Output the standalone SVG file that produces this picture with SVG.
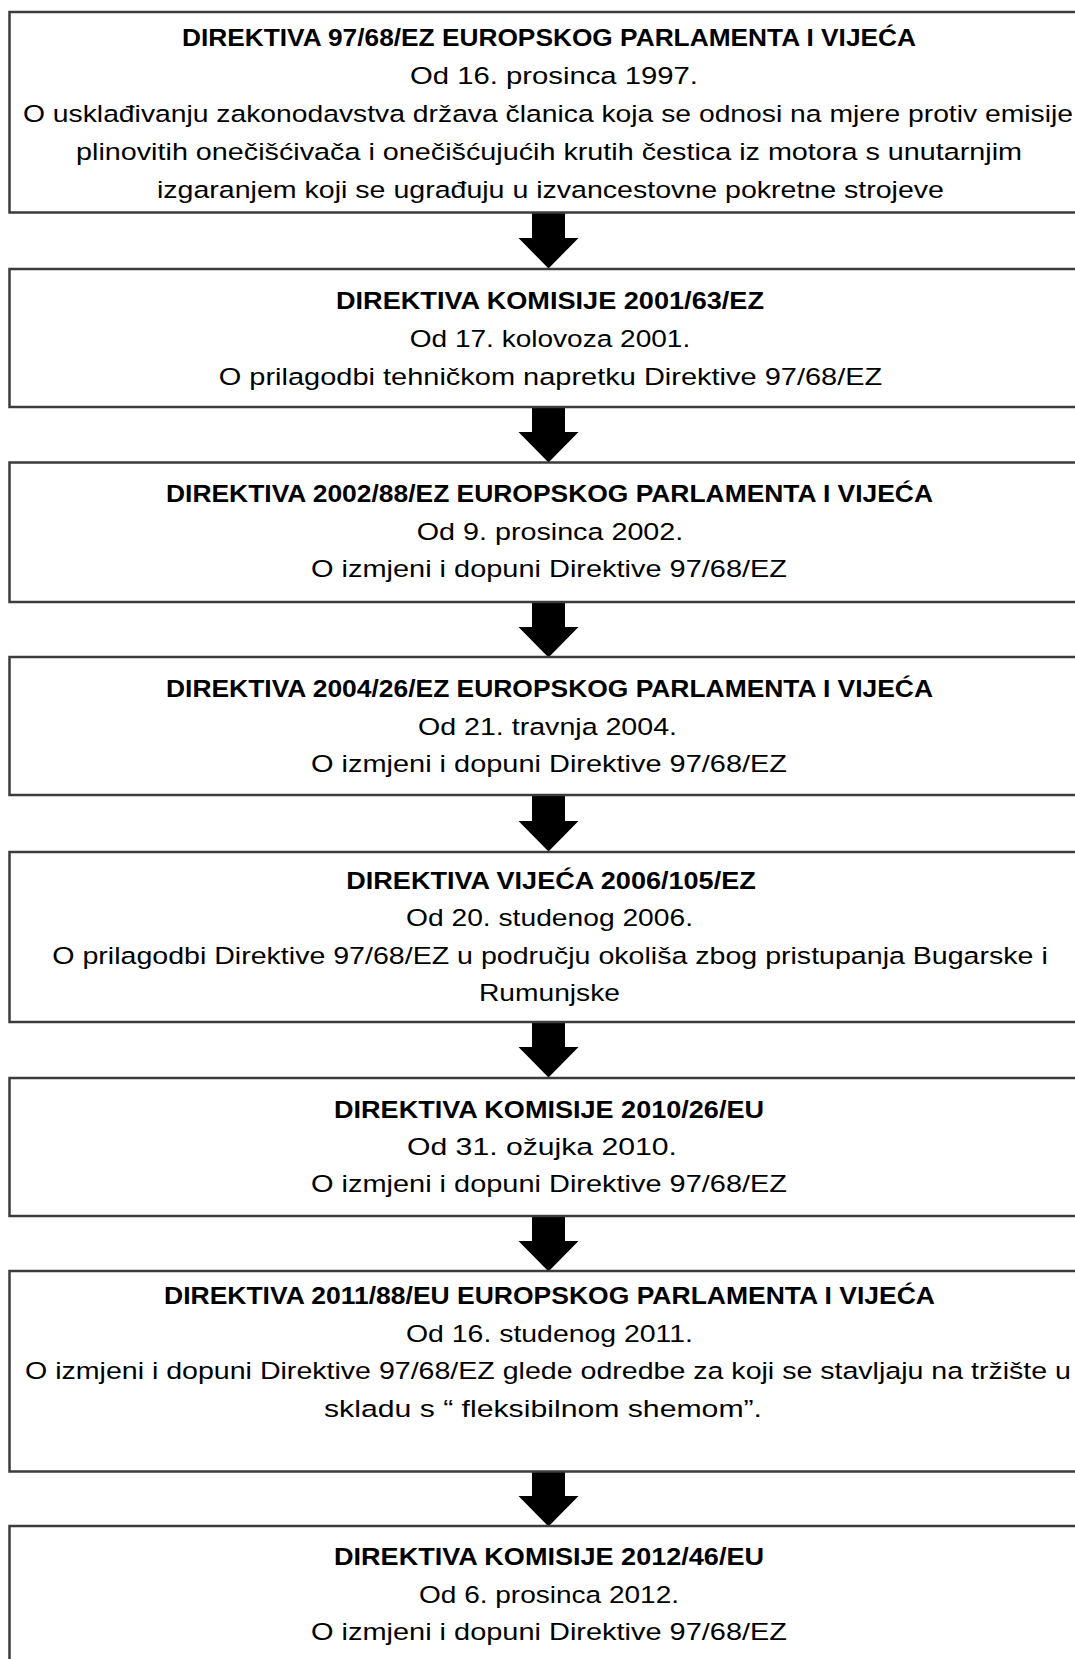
<svg xmlns="http://www.w3.org/2000/svg" width="1075" height="1659" viewBox="0 0 1075 1659">
<style>
.box{fill:#fff;stroke:#3c3c3c;stroke-width:2.5}
text{font-family:"Liberation Sans",Arial,sans-serif;font-size:24.5px;fill:#000;text-anchor:middle}
.t{font-weight:bold}
.arr{fill:#000}
</style>
<defs>
<path id="arrow" d="M-16.5,0 H16.5 V25 H30 L0,55.5 L-30,25 H-16.5 Z"/>
</defs>
<rect width="1075" height="1659" fill="#fff"/>
<g id="connectors" class="arr">
<use href="#arrow" x="548.5" y="213"/>
<use href="#arrow" x="548.5" y="407"/>
<use href="#arrow" x="548.5" y="602"/>
<use href="#arrow" x="548.5" y="796"/>
<use href="#arrow" x="548.5" y="1022"/>
<use href="#arrow" x="548.5" y="1216"/>
<use href="#arrow" x="548.5" y="1471"/>
</g>
<g id="n1">
<rect class="box" x="9.5" y="12" width="1085" height="200.5"/>
<text class="t" x="549" y="45.5" textLength="734" lengthAdjust="spacingAndGlyphs">DIREKTIVA 97/68/EZ EUROPSKOG PARLAMENTA I VIJEĆA</text>
<text x="554" y="83.5" textLength="288" lengthAdjust="spacingAndGlyphs">Od 16. prosinca 1997.</text>
<text x="548" y="121.5" textLength="1050" lengthAdjust="spacingAndGlyphs">O usklađivanju zakonodavstva država članica koja se odnosi na mjere protiv emisije</text>
<text x="549" y="159.5" textLength="946" lengthAdjust="spacingAndGlyphs">plinovitih onečišćivača i onečišćujućih krutih čestica iz motora s unutarnjim</text>
<text x="550.5" y="197.5" textLength="787" lengthAdjust="spacingAndGlyphs">izgaranjem koji se ugrađuju u izvancestovne pokretne strojeve</text>
</g>
<g id="n2">
<rect class="box" x="9.5" y="269" width="1085" height="138"/>
<text class="t" x="550" y="309" textLength="428" lengthAdjust="spacingAndGlyphs">DIREKTIVA KOMISIJE 2001/63/EZ</text>
<text x="550" y="347" textLength="280.5" lengthAdjust="spacingAndGlyphs">Od 17. kolovoza 2001.</text>
<text x="550.5" y="384.5" textLength="663.5" lengthAdjust="spacingAndGlyphs">O prilagodbi tehničkom napretku Direktive 97/68/EZ</text>
</g>
<g id="n3">
<rect class="box" x="9.5" y="462.5" width="1085" height="139.5"/>
<text class="t" x="549.5" y="501.5" textLength="767" lengthAdjust="spacingAndGlyphs">DIREKTIVA 2002/88/EZ EUROPSKOG PARLAMENTA I VIJEĆA</text>
<text x="550" y="539.5" textLength="266.5" lengthAdjust="spacingAndGlyphs">Od 9. prosinca 2002.</text>
<text x="549" y="576.5" textLength="476" lengthAdjust="spacingAndGlyphs">O izmjeni i dopuni Direktive 97/68/EZ</text>
</g>
<g id="n4">
<rect class="box" x="9.5" y="657" width="1085" height="138"/>
<text class="t" x="549.5" y="696.5" textLength="767" lengthAdjust="spacingAndGlyphs">DIREKTIVA 2004/26/EZ EUROPSKOG PARLAMENTA I VIJEĆA</text>
<text x="547.5" y="734.5" textLength="259" lengthAdjust="spacingAndGlyphs">Od 21. travnja 2004.</text>
<text x="549" y="771.5" textLength="476" lengthAdjust="spacingAndGlyphs">O izmjeni i dopuni Direktive 97/68/EZ</text>
</g>
<g id="n5">
<rect class="box" x="9.5" y="852" width="1085" height="170"/>
<text class="t" x="551" y="888.5" textLength="409.5" lengthAdjust="spacingAndGlyphs">DIREKTIVA VIJEĆA 2006/105/EZ</text>
<text x="549.5" y="925.5" textLength="287" lengthAdjust="spacingAndGlyphs">Od 20. studenog 2006.</text>
<text x="550" y="964" textLength="995.5" lengthAdjust="spacingAndGlyphs">O prilagodbi Direktive 97/68/EZ u području okoliša zbog pristupanja Bugarske i</text>
<text x="549.5" y="1001" textLength="141" lengthAdjust="spacingAndGlyphs">Rumunjske</text>
</g>
<g id="n6">
<rect class="box" x="9.5" y="1078" width="1085" height="138"/>
<text class="t" x="549" y="1117.5" textLength="430" lengthAdjust="spacingAndGlyphs">DIREKTIVA KOMISIJE 2010/26/EU</text>
<text x="542" y="1154.5" textLength="270" lengthAdjust="spacingAndGlyphs">Od 31. ožujka 2010.</text>
<text x="549" y="1191.5" textLength="476" lengthAdjust="spacingAndGlyphs">O izmjeni i dopuni Direktive 97/68/EZ</text>
</g>
<g id="n7">
<rect class="box" x="9.5" y="1271" width="1085" height="200.5"/>
<text class="t" x="549.5" y="1303.5" textLength="771" lengthAdjust="spacingAndGlyphs">DIREKTIVA 2011/88/EU EUROPSKOG PARLAMENTA I VIJEĆA</text>
<text x="549.5" y="1341.5" textLength="287" lengthAdjust="spacingAndGlyphs">Od 16. studenog 2011.</text>
<text x="548" y="1378.5" textLength="1046" lengthAdjust="spacingAndGlyphs">O izmjeni i dopuni Direktive 97/68/EZ glede odredbe za koji se stavljaju na tržište u</text>
<text x="543" y="1416.5" textLength="438" lengthAdjust="spacingAndGlyphs">skladu s “ fleksibilnom shemom”.</text>
</g>
<g id="n8">
<rect class="box" x="9.5" y="1526" width="1085" height="160"/>
<text class="t" x="549" y="1565" textLength="430" lengthAdjust="spacingAndGlyphs">DIREKTIVA KOMISIJE 2012/46/EU</text>
<text x="549" y="1603" textLength="260" lengthAdjust="spacingAndGlyphs">Od 6. prosinca 2012.</text>
<text x="549" y="1640" textLength="476" lengthAdjust="spacingAndGlyphs">O izmjeni i dopuni Direktive 97/68/EZ</text>
</g>
</svg>
